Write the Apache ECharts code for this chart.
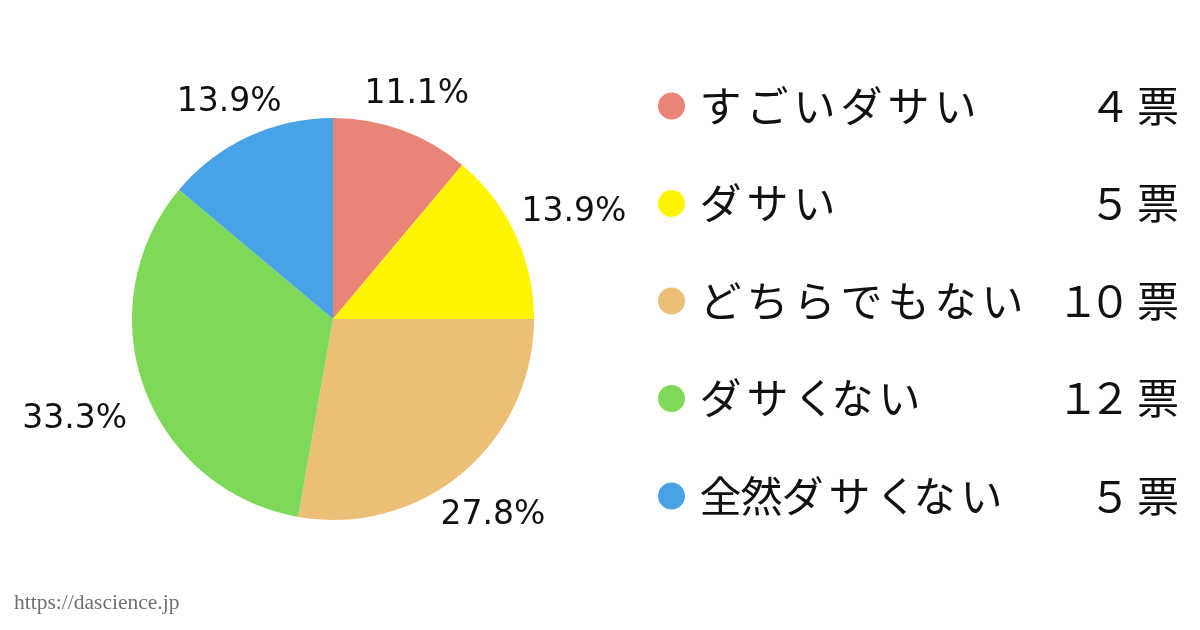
<!DOCTYPE html>
<html>
<head>
<meta charset="utf-8">
<script src="https://cdn.jsdelivr.net/npm/echarts@6/dist/echarts.min.js"></script>
<style>
html,body{margin:0;padding:0;background:#fff;}
#c{width:1200px;height:630px;}
</style>
</head>
<body>
<div id="c"></div>
<script>
var categories = ['すごいダサい', 'ダサい', 'どちらでもない', 'ダサくない', '全然ダサくない'];
var votes = [4, 5, 10, 12, 5];
var colors = ['#E98476', '#FFF500', '#EBBF75', '#7FD958', '#47A3E6'];
var unit = '票';

function fullWidth(s) {
  return String(s).replace(/[0-9]/g, function (ch) {
    return String.fromCharCode(ch.charCodeAt(0) + 0xFEE0);
  });
}

var countByName = {};
categories.forEach(function (n, i) { countByName[n] = votes[i]; });

// legend typography (letter spacing emulation)
var CH = 47;
var NARROW = { 'く': 38, '全': 41, '然': 41 };
var DIGIT_W = 32, UNIT_W = 64;
var ROW_W = 500;
var LEAD = 9.5;

function charW(c) { return NARROW[c] || CH; }

var rich = {
  p: { width: LEAD, fontSize: 10, lineHeight: 50 },
  d: { fontFamily: 'Noto Sans CJK JP', fontSize: 42, color: '#111', width: DIGIT_W, align: 'center', lineHeight: 50 },
  u: { fontFamily: 'Noto Sans CJK JP', fontSize: 42, color: '#111', width: UNIT_W, align: 'center', lineHeight: 50 }
};
function charStyle(c) {
  var w = charW(c);
  var key = 'c' + w;
  if (!rich[key]) {
    rich[key] = { fontFamily: 'Noto Sans CJK JP', fontSize: 42, color: '#111', width: w, lineHeight: 50 };
  }
  return key;
}
categories.forEach(function (name, i) {
  var nameW = 0;
  name.split('').forEach(function (c) { charStyle(c); nameW += charW(c); });
  var digits = fullWidth(countByName[name]);
  var spacer = ROW_W - LEAD - nameW - digits.length * DIGIT_W - UNIT_W;
  rich['s' + i] = { width: spacer, fontSize: 10, lineHeight: 50 };
});

function legendText(name) {
  var i = categories.indexOf(name);
  var s = '{p| }';
  name.split('').forEach(function (c) { s += '{' + charStyle(c) + '|' + c + '}'; });
  s += '{s' + i + '| }';
  fullWidth(countByName[name]).split('').forEach(function (c) { s += '{d|' + c + '}'; });
  s += '{u|' + unit + '}';
  return s;
}

var chart = echarts.init(document.getElementById('c'));
var R = 201;
var GAP = 27;
var LABEL_DY = 6;

chart.setOption({
  backgroundColor: '#ffffff',
  animation: false,
  color: colors,
  legend: {
    orient: 'vertical',
    left: 653,
    top: 80,
    icon: 'circle',
    itemWidth: 27,
    itemHeight: 27,
    itemGap: 55.5,
    selectedMode: false,
    data: categories,
    formatter: legendText,
    textStyle: { rich: rich }
  },
  graphic: [{
    type: 'text',
    left: 14,
    top: 592,
    style: {
      text: 'https://dascience.jp',
      fontFamily: 'Liberation Serif',
      fontSize: 21.5,
      fill: '#707070'
    }
  }],
  series: [{
    type: 'pie',
    center: [333, 319],
    radius: R,
    startAngle: 90,
    clockwise: true,
    percentPrecision: 1,
    data: categories.map(function (n, i) { return { name: n, value: votes[i] }; }),
    itemStyle: { borderWidth: 0 },
    emphasis: { disabled: true },
    label: {
      show: true,
      position: 'outside',
      formatter: function (p) { return p.percent.toFixed(1) + '%'; },
      fontFamily: 'DejaVu Sans',
      fontSize: 33,
      color: '#111'
    },
    labelLine: {
      show: true,
      length: 10,
      length2: 0,
      lineStyle: { opacity: 0 }
    },
    labelLayout: function (p) {
      var pts = p.labelLinePoints;
      if (!pts || pts.length < 2) return {};
      var dx = pts[1][0] - pts[0][0], dy = pts[1][1] - pts[0][1];
      var L = Math.sqrt(dx * dx + dy * dy) || 1;
      var ux = dx / L, uy = dy / L;
      var hw = p.labelRect.width / 2, hh = 16;
      var t1 = Math.abs(ux) > 1e-6 ? hw / Math.abs(ux) : 1e9;
      var t2 = Math.abs(uy) > 1e-6 ? hh / Math.abs(uy) : 1e9;
      var t = Math.min(t1, t2);
      return {
        x: pts[0][0] + ux * (GAP + t),
        y: pts[0][1] + uy * (GAP + t) + LABEL_DY,
        align: 'center',
        verticalAlign: 'middle'
      };
    }
  }]
});
</script>
</body>
</html>
